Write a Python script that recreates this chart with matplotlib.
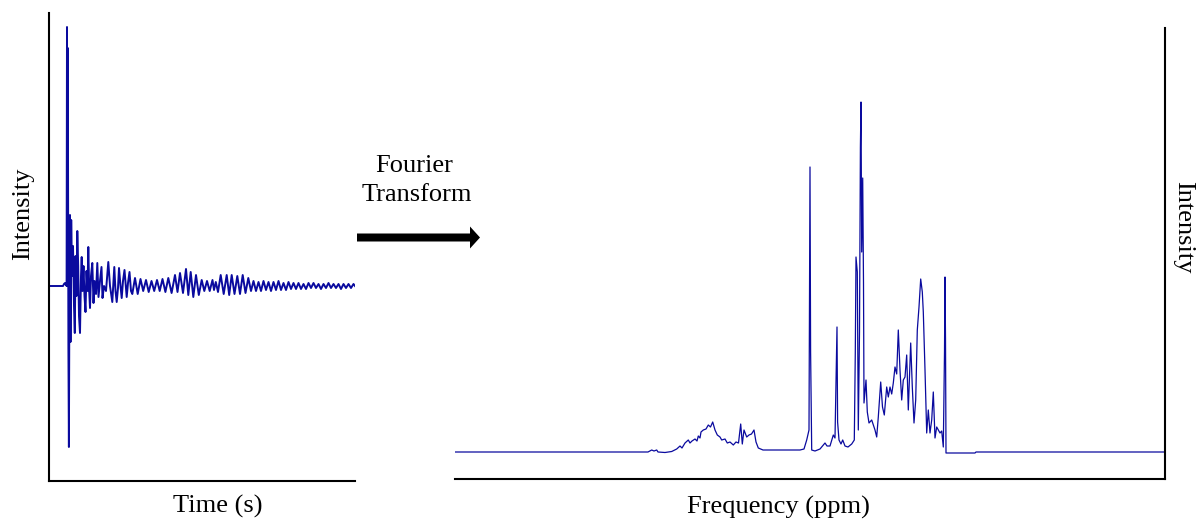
import matplotlib
matplotlib.use("Agg")
import matplotlib.pyplot as plt
from matplotlib.patches import FancyArrow

plt.rcParams['font.family'] = ['Liberation Serif', 'DejaVu Serif']

# ---------------- data ----------------
# Free induction decay (time axis in arbitrary units, intensity in arbitrary units)
fid_t = [0, 14, 15, 16, 17, 17.6, 18.0, 18.3, 18.8, 19.4, 19.9, 20.5, 21.0, 21.5, 22.2,
         23, 24, 25, 25.8, 26.5, 27.5, 28.3, 29.2, 30, 31, 32, 32.7, 33.5, 34.5, 35.5,
         36.5, 37.5, 38.5, 39.3, 40.2, 41, 42, 43.3, 44.5, 45.5, 47, 48.3, 49.5, 51,
         52.5, 53.5, 55, 57, 59.3, 61, 63.3, 65.3, 66.5, 67.7, 69, 70, 71.5, 72.7, 74,
         75.5, 77.7, 79, 80.5, 82, 83.3,
         86, 88.7, 91.5, 94.2, 97, 99.7, 102.5, 105.2, 108, 110.7,
         113.5, 116.4, 119.3, 122.6, 126, 128.5, 131, 134, 137, 139.3,
         141.7, 144.3, 147, 149.8, 152.7, 155.3, 158, 160.7, 163.5, 165,
         166.8, 169, 171.7, 174.7, 177.7, 180.2, 182.7, 185.5, 188.3, 191,
         193.7, 196.5, 199.3, 202,
         204.5, 207, 209.5, 212, 214.5, 217, 219.5, 222, 224.5, 227,
         229.5, 232, 234.5, 237, 239.5, 242, 244.5, 247, 249.5, 252,
         254.5, 257, 259.5, 262, 264.5, 267, 269.5, 272, 274.5, 277,
         279.5, 282, 284.5, 287, 289.5, 292, 294.5, 297, 299.5, 302,
         304.5, 306]
fid_v = [0, 0, 2, 3, 1, 0, 259, 0, 238, -60, -161, 20, 71, -56, 66,
         10, 40, -20, -47, 30, -10, 55, 20, -30, -47, 10, 29, -5, 20, -10,
         -26, 15, -5, 39, -5, -22, 10, 23, -17, 5, -8, 23, -11, 5,
         19, -12, 0, -5, 24, 0, -16, 19, -5, -16, -2, 18, 0, -12, 5,
         16, -11, 3, 14, -5, -8,
         8, -8, 7, -5, 6, -6, 5, -5, 6, -5,
         7, -6, 8, -7, 11, -6, 13, -7, 17, -9,
         14, -11, 11, -9, 6, -5, 5, -5, 6, -4,
         4, -6, 11, -8, 11, -9, 11, -8, 10, -8,
         11, -7, 8, -5,
         5, -5, 4, -5, 5, -4, 4, -5, 4, -4,
         5, -4, 3, -4, 4, -3, 3, -3, 3, -3,
         2, -3, 3, -2, 3, -2, 2, -3, 2, -2,
         3, -2, 2, -2, 2, -3, 2, -2, 2, -2,
         2, 0]

# NMR spectrum (frequency axis in arbitrary units, intensity in arbitrary units)
freq = [0, 193, 196.7, 199, 201.7, 203, 210, 216.7, 221.7, 225, 227, 230, 233.3, 235, 237,
        240, 242, 243.3, 245, 246, 248.3, 251, 253.3, 255.5, 257.7, 260, 262.3, 265,
        266.7, 270, 272.3, 275, 278.3, 281, 283.5, 285.7, 287.3, 289, 291.7, 294, 296.5,
        299, 301, 303.3, 308, 315, 325, 335, 345, 349, 351.7, 354, 354.6, 355, 355.6,
        356.7, 360, 365, 370, 372, 375, 378.3, 380, 381.5, 382, 382.6, 384, 386, 387.7,
        390, 393, 396.7, 399.3, 400.3, 401, 402.3, 403.3, 404.5, 405.4, 406, 406.7,
        407.7, 408.5, 409, 411, 412.3, 414, 416.7, 420, 421.7, 423.3, 425.7, 427.5,
        429.3, 431.7, 433.3, 435, 436.7, 438.3, 440, 441.7, 443.3, 445, 446.7, 448.3,
        450, 451.7, 453.3, 455.7, 457.3, 459, 460.7, 462.3, 464, 465.7, 467.3, 468.3,
        470, 471.7, 473.3, 475, 476.7, 478.3, 480, 481.7, 483.3, 485, 486.7, 488.3,
        489.5, 490, 490.5, 491, 520, 521, 710]
spec = [0, 0, 2, 1, 2, 0, -0.5, 0.5, 3, 6, 4, 9, 12, 9, 11,
        13, 11, 16, 14, 20, 22, 23, 27, 25, 30, 22, 17, 15,
        12, 13, 9, 10, 7, 10, 9, 28, 8, 22, 15, 17, 18,
        22, 10, 4, 2, 2, 2, 2, 2, 3, 12, 22, 180, 285, 100,
        2, 1, 3, 9, 6, 6, 17, 14, 100, 125, 30, 12, 8, 12,
        6, 5, 8, 12, 100, 195, 180, 22, 120, 305, 350, 200,
        274, 169, 49, 72, 40, 29, 32, 22, 15, 35, 70, 45,
        37, 65, 55, 65, 58, 69, 85, 78, 122, 82, 52, 72,
        75, 97, 42, 109, 65, 29, 52, 122, 145, 173, 160, 140,
        82, 19, 42, 19, 32, 60, 14, 25, 22, 19, 21, 5,
        100, 175, 114, -1, -1, 0, 0]

line_color = '#0a0a9e'

# ---------------- figure ----------------
W, H = 1200, 521
fig = plt.figure(figsize=(W / 100, H / 100), dpi=100)

def frac(x0, y0, x1, y1):
    return [x0 / W, 1 - y1 / H, (x1 - x0) / W, (y1 - y0) / H]

ax1 = fig.add_axes(frac(49, 13, 355, 481))
ax1.plot(fid_t, fid_v, color=line_color, lw=1.4)
ax1.set_xlim(0, 306)
ax1.set_ylim(-195, 273)
for s in ['top', 'right']:
    ax1.spines[s].set_visible(False)

ax2 = fig.add_axes(frac(455, 28, 1165, 479))
ax2.plot(freq, spec, color=line_color, lw=0.9)
ax2.set_xlim(0, 710)
ax2.set_ylim(-27, 424)
for s in ['top', 'left']:
    ax2.spines[s].set_visible(False)

for ax in (ax1, ax2):
    ax.set_xticks([])
    ax.set_yticks([])
    for s in ax.spines.values():
        s.set_linewidth(1.5)
        s.set_color('black')

tr = fig.dpi_scale_trans
def P(x, y):
    return x / 100, (H - y) / 100

fs = 19
fig.text(*P(29.5, 214), 'Intensity', rotation=90, rotation_mode='anchor',
         ha='center', va='baseline', fontsize=fs, transform=tr)
fig.text(*P(1177, 227), 'Intensity', rotation=270, rotation_mode='anchor',
         ha='center', va='baseline', fontsize=fs, transform=tr)
fig.text(*P(218, 513), 'Time (s)', ha='center', va='baseline', fontsize=fs, transform=tr)
fig.text(*P(778, 514), 'Frequency (ppm)', ha='center', va='baseline', fontsize=fs, transform=tr)
fig.text(*P(414, 172), 'Fourier', ha='center', va='baseline', fontsize=fs, transform=tr)
fig.text(*P(417, 201), 'Transform', ha='center', va='baseline', fontsize=fs, transform=tr)

ax0, ay0 = P(357, 237.5)
arrow = FancyArrow(ax0, ay0, 1.23, 0, width=0.08, head_width=0.22, head_length=0.10,
                   length_includes_head=True, color='black', lw=0, transform=tr)
fig.add_artist(arrow)

fig.savefig('out.png', dpi=100)
